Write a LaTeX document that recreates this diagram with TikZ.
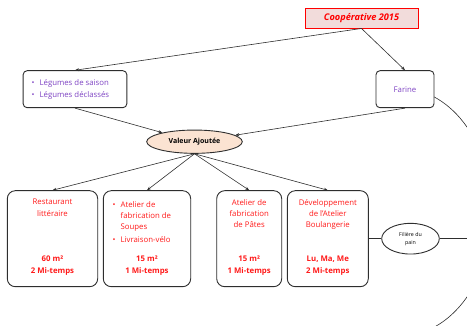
\documentclass[tikz,border=0pt]{standalone}
\usepackage{fontspec}
\setmainfont{Open Sans}
\usetikzlibrary{arrows.meta,shapes.geometric}
\definecolor{mred}{HTML}{FF1A1A}
\definecolor{mpurple}{HTML}{7F44C4}
\definecolor{coopfill}{HTML}{F2DCDB}
\definecolor{valfill}{HTML}{FBE3D2}
\definecolor{edge}{HTML}{2E2E2E}
\tikzset{
  rbox/.style={draw=edge, line width=0.9pt, rounded corners=8pt, fill=white, inner sep=0pt},
  sbox/.style={draw=edge, line width=0.9pt, rounded corners=4pt, fill=white, inner sep=0pt},
  conn/.style={draw=edge, line width=0.6pt},
  arr/.style={conn, -{Stealth[length=4pt,width=3pt]}},
  redtxt/.style={text=mred, font=\fontsize{7.8}{11.4}\selectfont, align=center, inner sep=0pt},
  redbold/.style={text=mred, font=\fontsize{7.8}{11.7}\selectfont\bfseries, align=center, inner sep=0pt},
}
\begin{document}
\begin{tikzpicture}[x=1pt,y=-1pt]
\useasboundingbox (0,0) rectangle (467,326);
\clip (0,0) rectangle (467,326);
% large arc on the right
\draw[conn] (428.4pt,-94.1pt) arc[start angle=72, end angle=-80, x radius=92pt, y radius=124pt];
% nodes
\node[draw=red, line width=0.9pt, fill=coopfill, minimum width=113pt, minimum height=20pt, inner sep=0pt,
      text=red, font=\fontsize{9.2}{10}\selectfont\bfseries\itshape] (coop) at (361.5,18) {Coopérative 2015};
\node[sbox, minimum width=58pt, minimum height=37pt, text=mpurple, font=\fontsize{7.8}{9}\selectfont] (farine) at (405,89.2) {Farine};
\node[sbox, minimum width=103.7pt, minimum height=37pt] (leg) at (75,89.2) {};
\node[text=mpurple, font=\fontsize{7.8}{12}\selectfont, inner sep=0pt, anchor=west] (legt) at (31.5,89.2)
  {\begin{tabular}{@{}l@{\hspace{5pt}}l@{}}\textbullet & Légumes de saison\\ \textbullet & Légumes déclassés\end{tabular}};
\node[ellipse, draw=edge, line width=0.9pt, fill=valfill, minimum width=95.6pt, minimum height=23.3pt, inner sep=0pt,
      font=\fontsize{7}{8}\selectfont\bfseries] (val) at (194.5,141.7) {Valeur Ajoutée};
% bottom boxes
\node[rbox, minimum width=90.4pt, minimum height=96pt] (b1) at (52.5,238.7) {};
\node[rbox, minimum width=87.4pt, minimum height=96pt] (b2) at (147,238.7) {};
\node[rbox, minimum width=65pt, minimum height=96pt] (b3) at (249.2,238.7) {};
\node[rbox, minimum width=81pt, minimum height=96pt] (b4) at (327.8,238.7) {};
\node[ellipse, draw=edge, line width=0.9pt, fill=white, minimum width=57.6pt, minimum height=30.7pt, inner sep=0pt,
      align=center, font=\fontsize{5.3}{8}\selectfont] (fil) at (410.5,238.7) {Filière du\\pain};
\coordinate (fend) at (467,238.7);
% texts in bottom boxes
\node[redtxt, anchor=north] (b1t) at (52.5,199) {Restaurant\\littéraire};
\node[redbold, anchor=north] (b1b) at (52.5,256) {60 m²\\2 Mi-temps};
\node[redtxt, anchor=north west] (b2t) at (112.5,199)
  {\begin{tabular}{@{}l@{\hspace{5pt}}l@{}}\textbullet & Atelier de\\ & fabrication de\\ & Soupes\\[1.3pt] \textbullet & Livraison-vélo\end{tabular}};
\node[redbold, anchor=north] (b2b) at (147,256) {15 m²\\1 Mi-temps};
\node[redtxt, anchor=north] (b3t) at (249.2,199) {Atelier de\\fabrication\\de Pâtes};
\node[redbold, anchor=north] (b3b) at (249.2,256) {15 m²\\1 Mi-temps};
\node[redtxt, anchor=north] (b4t) at (327.8,199) {Développement\\de l'Atelier\\Boulangerie};
\node[redbold, anchor=north] (b4b) at (327.8,256) {Lu, Ma, Me\\2 Mi-temps};
% connectors
\draw[arr] (coop.south) -- (leg.north);
\draw[arr] (coop.south) -- (farine.north);
\draw[arr] (leg.south) -- (val);
\draw[arr] (farine.south) -- (val);
\draw[arr] (val.south) -- (b1.north);
\draw[arr] (val.south) -- (b2.north);
\draw[arr] (val.south) -- (b3.north);
\draw[arr] (val.south) -- (b4.north);
\draw[conn] (b4.east) -- (fil.west);
\draw[conn] (fil.east) -- (fend);
\end{tikzpicture}
\end{document}
